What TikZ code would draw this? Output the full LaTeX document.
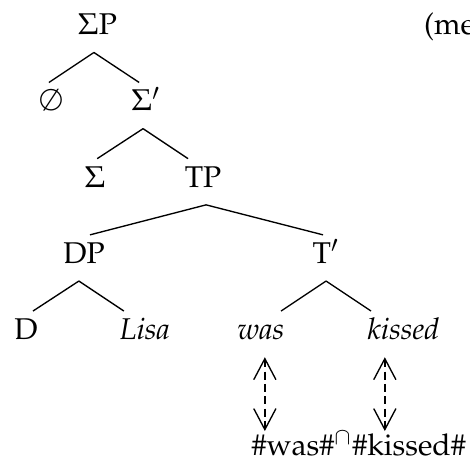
\documentclass[tikz,border=0pt]{standalone}
\usepackage[T1]{fontenc}
\usepackage{mathpazo}
\usepackage{tikz}
\usetikzlibrary{arrows.meta,positioning}

\begin{document}
\begin{tikzpicture}[
  cat/.style={inner sep=0pt, text height=9.3pt, text depth=5.7pt},
  br/.style={line width=0.45pt},
  dep/.style={{Straight Barb[length=7pt,width=7.4pt]}-{Straight Barb[length=7pt,width=7.4pt]}, dash pattern=on 2.7pt off 1.4pt, line width=0.45pt},
]
\useasboundingbox (-32.5pt,9.8pt) rectangle (124.2pt,-142.2pt);
\node[cat] (sp) {$\Sigma$P};
\node[cat, right=102pt of sp] (me) {(me};
\node[cat, below=10pt of sp, xshift=-15.5pt] (null) {$\emptyset$};
\node[cat, below=10pt of sp, xshift=16.2pt] (sbar) {$\Sigma'$};
\node[cat, below=10pt of sbar, xshift=-17pt] (sig) {$\Sigma$};
\node[cat, below=10pt of sbar, xshift=19pt] (tp) {TP};
\node[cat, below=10pt of tp, xshift=-39.7pt] (dp) {DP};
\node[cat, below=10pt of tp, xshift=41pt] (tbar) {T$'$};
\node[cat, below=10pt of dp, xshift=-19.3pt] (d) {D};
\node[cat, below=10pt of dp, xshift=20.3pt] (lisa) {\textit{Lisa}};
\node[cat, below=10pt of tbar, xshift=-21.7pt] (was) {\textit{was}};
\node[cat, below=10pt of tbar, xshift=25.8pt] (kissed) {\textit{kissed}};
\node[cat, below=23.3pt of kissed, xshift=-14.9pt] (pf) {\#was\#$^{\cap}$\#kissed\#};
% branches
\draw[br] ([xshift=-1.2pt]sp.south) -- ([xshift=-0.7pt]null.north);
\draw[br] ([xshift=-1.2pt]sp.south) -- ([xshift=-2.3pt]sbar.north);
\draw[br] ([xshift=-1pt]sbar.south) -- ([xshift=0.7pt]sig.north);
\draw[br] ([xshift=-1pt]sbar.south) -- ([xshift=-5pt]tp.north);
\draw[br] ([xshift=1pt]tp.south) -- ([xshift=2pt]dp.north);
\draw[br] ([xshift=1pt]tp.south) -- ([xshift=-1pt]tbar.north);
\draw[br] ([xshift=-1.7pt]dp.south) -- ([xshift=2.3pt]d.north);
\draw[br] ([xshift=-1.7pt]dp.south) -- ([xshift=-7pt]lisa.north);
\draw[br] (tbar.south) -- ([xshift=6.7pt]was.north);
\draw[br] (tbar.south) -- ([xshift=-10.8pt]kissed.north);
% correspondence
\draw[dep] ([xshift=1.3pt]was.south) -- ([xshift=-31.3pt,yshift=-1.3pt]pf.north);
\draw[dep] ([xshift=-6.2pt]kissed.south) -- ([xshift=8.7pt,yshift=-1.3pt]pf.north);
\end{tikzpicture}
\end{document}
